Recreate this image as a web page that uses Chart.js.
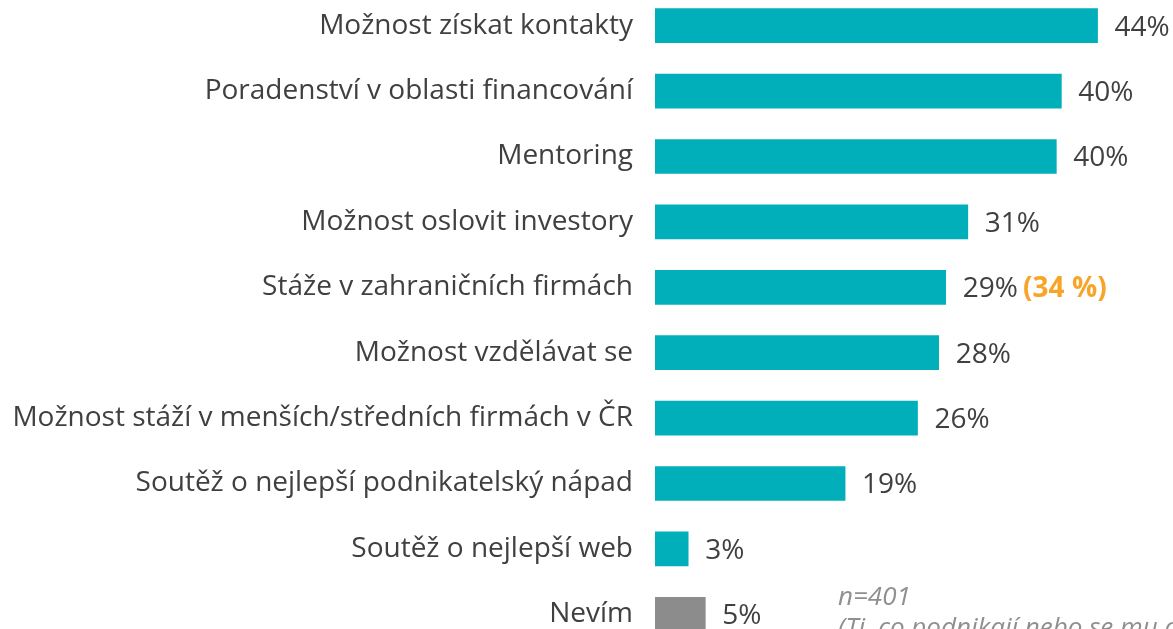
<!DOCTYPE html>
<html>
<head>
<meta charset="utf-8">
<script src="https://cdn.jsdelivr.net/npm/chart.js@4"></script>
<style>
  html, body { margin: 0; padding: 0; background: #fff; overflow: hidden; }
  #graph { position: absolute; left: 0; top: -7px; }
</style>
</head>
<body>
<canvas id="graph" width="1173" height="654"></canvas>
<script>
// data
const categories = [
  'Možnost získat kontakty',
  'Poradenství v oblasti financování',
  'Mentoring',
  'Možnost oslovit investory',
  'Stáže v zahraničních firmách',
  'Možnost vzdělávat se',
  'Možnost stáží v menších/středních firmách v ČR',
  'Soutěž o nejlepší podnikatelský nápad',
  'Soutěž o nejlepší web',
  'Nevím'
]
const values = [44, 40.4, 39.9, 31.1, 28.9, 28.2, 26.1, 18.9, 3.3, 5]
const valueLabels = ['44%', '40%', '40%', '31%', '29%', '28%', '26%', '19%', '3%', '5%']
const extraLabels = ['', '', '', '', '(34 %)', '', '', '', '', '']
const noteLines = ['n=401', '(Ti, co podnikají nebo se mu chtějí věnovat)']

const TEAL = '#00AFB9'
const GREY = '#8C8C8C'
const FONT = "'Open Sans', sans-serif"

const barColors = categories.map(c => c === 'Nevím' ? GREY : TEAL)

// value labels + orange note next to bars
const valueLabelPlugin = {
    id: 'valueLabels',
    afterDatasetsDraw(chart) {
        const ctx = chart.ctx
        const meta = chart.getDatasetMeta(0)
        ctx.save()
        ctx.textBaseline = 'middle'
        ctx.textAlign = 'left'
        meta.data.forEach((bar, i) => {
            const x = bar.x + 17
            ctx.font = '28px ' + FONT
            ctx.fillStyle = '#404040'
            ctx.fillText(valueLabels[i], x, bar.y + 2)
            if (extraLabels[i]) {
                const w = ctx.measureText(valueLabels[i] + ' ').width
                ctx.font = 'bold 28px ' + FONT
                ctx.fillStyle = '#F7A428'
                ctx.fillText(extraLabels[i], x + w - 2, bar.y + 2)
            }
        })
        // footnote (canvas is shifted up by 7px)
        ctx.font = 'italic 26px ' + FONT
        ctx.fillStyle = '#8F8F8F'
        ctx.textBaseline = 'alphabetic'
        ctx.fillText(noteLines[0], 838, 612)
        ctx.fillText(noteLines[1], 838, 643)
        ctx.restore()
    }
}

const ctx = document.querySelector('#graph').getContext('2d')
new Chart(ctx, {
    type: 'bar',
    data: {
        labels: categories,
        datasets: [{
            data: values,
            backgroundColor: barColors,
            barThickness: 34
        }]
    },
    options: {
        indexAxis: 'y',
        responsive: false,
        animation: false,
        layout: { padding: 0 },
        plugins: {
            legend: { display: false },
            tooltip: { enabled: false }
        },
        scales: {
            x: {
                min: 0,
                max: 51.5,
                display: false
            },
            y: {
                grid: { display: false, drawTicks: false },
                border: { display: false },
                ticks: {
                    color: '#404040',
                    padding: 22,
                    autoSkip: false,
                    font: { family: FONT, size: 28 }
                },
                afterFit(scale) {
                    scale.width = 655
                    scale.paddingTop = 0
                    scale.paddingBottom = 0
                }
            }
        }
    },
    plugins: [valueLabelPlugin]
})
</script>
</body>
</html>
